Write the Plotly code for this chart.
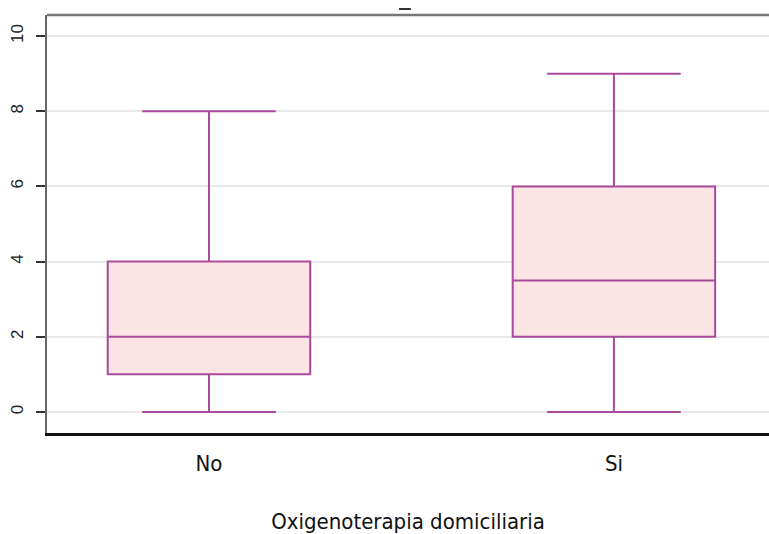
import plotly.graph_objects as go

categories = ["No", "Si"]
mins = [0, 0]
q1s = [1, 2]
medians = [2, 3.5]
q3s = [4, 6]
maxs = [8, 9]
y_ticks = [0, 2, 4, 6, 8, 10]
x_title = "Oxigenoterapia domiciliaria"

LINE = "#a94a9c"
FILL = "#fde5e5"
NARROW = "DejaVu Sans Condensed, Liberation Sans Narrow, Roboto Condensed, Liberation Sans"

fig = go.Figure()
fig.add_trace(go.Box(
    x=categories,
    q1=q1s, median=medians, q3=q3s,
    lowerfence=mins, upperfence=maxs,
    width=0.5,
    whiskerwidth=0.66,
    fillcolor=FILL,
    line=dict(color=LINE, width=2),
    boxpoints=False,
    hoverinfo="skip",
    showlegend=False,
))

fig.update_layout(
    width=769, height=534,
    margin=dict(l=47, r=0, t=15, b=101),
    paper_bgcolor="white",
    plot_bgcolor="white",
    font=dict(family="Liberation Sans", color="#111111"),
    xaxis=dict(
        type="category",
        range=[-0.4, 1.383],
        showgrid=False,
        showline=True, linecolor="#111111", linewidth=3,
        ticks="", ticklabelstandoff=9,
        tickfont=dict(family=NARROW, size=22, color="#111111"),
        title=dict(text=x_title, font=dict(family=NARROW, size=22, color="#111111"), standoff=40),
        zeroline=False,
        fixedrange=True,
    ),
    yaxis=dict(
        range=[-0.56, 10.56],
        tickvals=y_ticks,
        ticktext=[str(v) for v in y_ticks],
        tickangle=-90,
        ticks="outside", ticklen=9, tickwidth=2, tickcolor="#333333",
        ticklabelstandoff=6,
        tickfont=dict(family="Liberation Sans", size=17, color="#222222"),
        showgrid=True, gridcolor="#e8e8e8", gridwidth=1.5,
        showline=True, linecolor="#666666", linewidth=2,
        zeroline=False,
        fixedrange=True,
    ),
    shapes=[
        dict(type="line", xref="paper", yref="paper", x0=0, x1=1, y0=1, y1=1,
             line=dict(color="#777777", width=2.5)),
        dict(type="line", xref="paper", yref="paper", x0=0.4875, x1=0.504, y0=1.0144, y1=1.0144,
             line=dict(color="#333333", width=2)),
    ],
)

fig.write_html("out.html")
